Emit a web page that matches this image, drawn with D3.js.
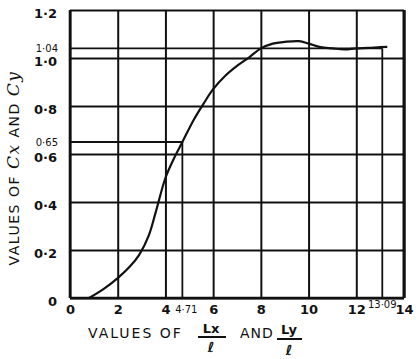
<!DOCTYPE html>
<html>
<head>
<meta charset="utf-8">
<script src="https://cdn.jsdelivr.net/npm/d3@7"></script>
<style>
  body { margin: 0; background: #fff; }
  text { font-family: "DejaVu Sans", sans-serif; fill: #111; }
</style>
</head>
<body>
<svg id="chart"></svg>
<script>
// chart values
var xTicks = [0, 2, 4, 6, 8, 10, 12, 14];
var yTicks = [0, 0.2, 0.4, 0.6, 0.8, 1.0, 1.2];
var yTickLabels = ["0", "0·2", "0·4", "0·6", "0·8", "1·0", "1·2"];
// marked points on the curve
var markX = [4.71, 13.09];
var markY = [0.65, 1.04];
var markXLabels = ["4·71", "13·09"];
var markYLabels = ["0·65", "1·04"];
// curve
var curveX = [0.8, 1.4, 2, 2.5, 2.9, 3.3, 3.6, 4, 4.4, 4.71, 5.2, 5.6, 6, 6.5, 7, 7.5, 8, 8.5, 9, 9.6, 10, 10.5, 11, 11.5, 12, 12.5, 13, 13.3];
var curveY = [0, 0.037, 0.083, 0.13, 0.18, 0.26, 0.36, 0.5, 0.59, 0.65, 0.745, 0.81, 0.87, 0.925, 0.967, 1.002, 1.04, 1.06, 1.067, 1.07, 1.06, 1.045, 1.04, 1.036, 1.04, 1.042, 1.045, 1.046];

var W = 416, H = 359;
var margin = { left: 70, right: 12, top: 10, bottom: 61 };
var width = W - margin.left - margin.right,
  height = H - margin.top - margin.bottom;

var svg = d3.select("#chart").attr("width", W).attr("height", H);

var x = d3.scaleLinear().domain([0, 14]).range([margin.left, margin.left + width]);
var y = d3.scaleLinear().domain([0, 1.2]).range([margin.top + height, margin.top]);

// vertical grid + x labels
var gx = svg.append("g")
  .attr("transform", `translate(0,${y(0)})`)
  .call(d3.axisBottom(x).tickValues(xTicks).tickSize(-height).tickSizeOuter(0).tickPadding(7).tickFormat(d3.format("d")));
gx.select(".domain").remove();
gx.selectAll("line").attr("stroke", "#111").attr("stroke-width", 2);
gx.selectAll("text").attr("font-size", 13).attr("font-weight", "bold").attr("font-family", "DejaVu Sans");

// horizontal grid + y labels
var gy = svg.append("g")
  .attr("transform", `translate(${x(0)},0)`)
  .call(d3.axisLeft(y).tickValues(yTicks).tickSize(-width).tickSizeOuter(0).tickPadding(13)
    .tickFormat((d, i) => yTickLabels[i]));
gy.select(".domain").remove();
gy.selectAll("line").attr("stroke", "#111").attr("stroke-width", 2);
gy.selectAll("text").attr("font-size", 13).attr("font-weight", "bold").attr("dy", "0.55em").attr("font-family", "DejaVu Sans");

// heavier left / bottom / right edges
svg.append("line").attr("x1", x(0)).attr("x2", x(0)).attr("y1", y(0)).attr("y2", y(1.2))
  .attr("stroke", "#111").attr("stroke-width", 2.6);
svg.append("line").attr("x1", x(0)).attr("x2", x(14)).attr("y1", y(0)).attr("y2", y(0))
  .attr("stroke", "#111").attr("stroke-width", 2.6);
svg.append("line").attr("x1", x(14)).attr("x2", x(14)).attr("y1", y(0)).attr("y2", y(1.2))
  .attr("stroke", "#111").attr("stroke-width", 3);

// marker lines
var marks = svg.append("g");
markX.forEach(function (mx, i) {
  marks.append("line").attr("x1", x(mx)).attr("x2", x(mx)).attr("y1", y(0)).attr("y2", y(markY[i]))
    .attr("stroke", "#111").attr("stroke-width", 1.8);
  marks.append("line").attr("x1", x(0)).attr("x2", x(mx)).attr("y1", y(markY[i])).attr("y2", y(markY[i]))
    .attr("stroke", "#111").attr("stroke-width", 1.8);
  marks.append("text").attr("x", x(0) - 12).attr("y", y(markY[i]) + 4)
    .attr("text-anchor", "end").attr("font-size", 10).text(markYLabels[i]);
});
marks.append("text").attr("x", x(markX[0]) + 4).attr("y", y(0) + 15)
  .attr("text-anchor", "middle").attr("font-size", 10).text(markXLabels[0]);
marks.append("text").attr("x", x(markX[1])).attr("y", y(0) + 10)
  .attr("text-anchor", "middle").attr("font-size", 10).text(markXLabels[1]);

// curve
var pts = curveX.map((d, i) => [d, curveY[i]]);
svg.append("path")
  .datum(pts)
  .attr("fill", "none")
  .attr("stroke", "#111")
  .attr("stroke-width", 2.2)
  .attr("d", d3.line().x(d => x(d[0])).y(d => y(d[1])).curve(d3.curveCatmullRom));

// y title
var yt = svg.append("text")
  .attr("transform", "translate(19,168) rotate(-90)")
  .attr("text-anchor", "middle")
  .attr("font-size", 14)
  .attr("letter-spacing", 1.5);
yt.append("tspan").text("VALUES OF ");
yt.append("tspan").attr("font-family", "DejaVu Serif").attr("font-style", "italic").attr("font-size", 17).text("Cx");
yt.append("tspan").text(" AND ");
yt.append("tspan").attr("font-family", "DejaVu Serif").attr("font-style", "italic").attr("font-size", 17).text("Cy");

// x title with fractions
var xt = svg.append("g");
xt.append("text").attr("x", 88).attr("y", 338).attr("font-size", 14).attr("letter-spacing", 2).text("VALUES  OF");
xt.append("text").attr("x", 240).attr("y", 338).attr("font-size", 14).attr("letter-spacing", 1).text("AND");
[["Lx", 211, 333, 198, 226, 337, 352], ["Ly", 289, 334, 277, 302, 339, 355]].forEach(function (f) {
  xt.append("text").attr("x", f[1]).attr("y", f[2]).attr("text-anchor", "middle")
    .attr("font-size", 13).attr("font-weight", "bold").text(f[0]);
  xt.append("line").attr("x1", f[3]).attr("x2", f[4]).attr("y1", f[5]).attr("y2", f[5])
    .attr("stroke", "#111").attr("stroke-width", 2);
  xt.append("text").attr("x", f[1]).attr("y", f[6]).attr("text-anchor", "middle")
    .attr("font-size", 14).attr("font-family", "DejaVu Serif").attr("font-style", "italic").attr("font-weight", "bold").text("ℓ");
});
</script>
</body>
</html>
